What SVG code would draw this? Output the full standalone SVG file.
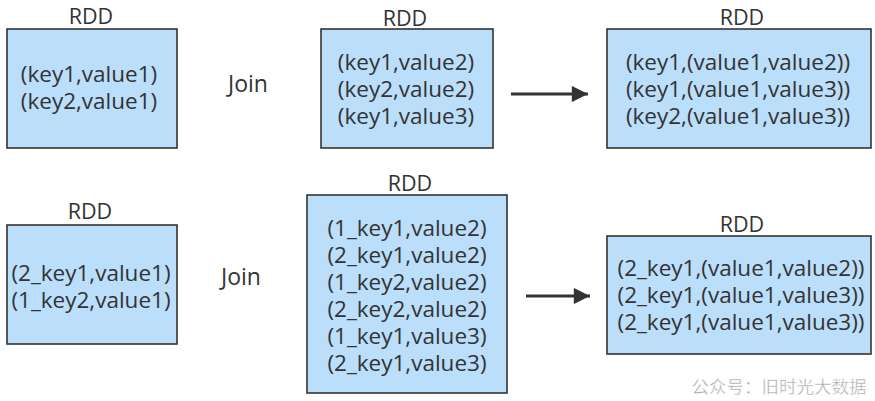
<svg xmlns="http://www.w3.org/2000/svg" width="875" height="401" viewBox="0 0 875 401">
<style>
.box{fill:#bbdefa;stroke:#333;stroke-width:1.6}
.t{font-family:"Open Sans","Noto Sans","Liberation Sans",sans-serif;font-size:22.5px;fill:#333;text-anchor:middle}
.lbl{font-family:"Open Sans","Noto Sans","Liberation Sans",sans-serif;font-size:21.5px;fill:#333;text-anchor:middle}
.jn{font-family:"Open Sans","Noto Sans","Liberation Sans",sans-serif;font-size:23px;fill:#333;text-anchor:middle}
.wm{font-family:"Noto Sans CJK SC","Noto Sans",sans-serif;font-size:17.5px;fill:#a8a8a8;stroke:#fff;stroke-width:0.4;text-anchor:middle}
.edge{stroke:#333;stroke-width:3;fill:none}
</style>
<defs>
<marker id="ah" viewBox="0 0 10 10" refX="10" refY="5" markerWidth="7.6" markerHeight="5.4" markerUnits="strokeWidth" orient="auto">
<path d="M0,0 L10,5 L0,10 z" fill="#333"/>
</marker>
</defs>
<rect width="875" height="401" fill="#fff"/>
<g id="rdd1">
<text class="lbl" x="91" y="23.5">RDD</text>
<rect class="box" x="7" y="29" width="170" height="119"/>
<text class="t" x="89" y="82">(key1,value1)</text>
<text class="t" x="89" y="109">(key2,value1)</text>
</g>
<g id="join1"><text class="jn" x="248" y="92">Join</text></g>
<g id="rdd2">
<text class="lbl" x="405" y="26">RDD</text>
<rect class="box" x="321" y="29" width="172" height="119"/>
<text class="t" x="406" y="70">(key1,value2)</text>
<text class="t" x="406" y="97">(key2,value2)</text>
<text class="t" x="406" y="124">(key1,value3)</text>
</g>
<g id="rdd3">
<text class="lbl" x="742" y="25">RDD</text>
<rect class="box" x="607" y="29" width="264" height="119"/>
<text class="t" x="738" y="70">(key1,(value1,value2))</text>
<text class="t" x="738" y="97">(key1,(value1,value3))</text>
<text class="t" x="738" y="124">(key2,(value1,value3))</text>
</g>
<g id="rdd4">
<text class="lbl" x="90" y="219">RDD</text>
<rect class="box" x="7" y="225" width="170" height="119"/>
<text class="t" x="91" y="281">(2_key1,value1)</text>
<text class="t" x="91" y="308">(1_key2,value1)</text>
</g>
<g id="join2"><text class="jn" x="241" y="285">Join</text></g>
<g id="rdd5">
<text class="lbl" x="410" y="191">RDD</text>
<rect class="box" x="307" y="195" width="200" height="198"/>
<text class="t" x="407" y="236">(1_key1,value2)</text>
<text class="t" x="407" y="263">(2_key1,value2)</text>
<text class="t" x="407" y="290">(1_key2,value2)</text>
<text class="t" x="407" y="317">(2_key2,value2)</text>
<text class="t" x="407" y="344">(1_key1,value3)</text>
<text class="t" x="407" y="371">(2_key1,value3)</text>
</g>
<g id="rdd6">
<text class="lbl" x="742" y="232">RDD</text>
<rect class="box" x="607" y="236" width="264" height="118"/>
<text class="t" x="741" y="276">(2_key1,(value1,value2))</text>
<text class="t" x="741" y="303">(2_key1,(value1,value3))</text>
<text class="t" x="741" y="330">(2_key1,(value1,value3))</text>
</g>
<g id="connectors">
<line class="edge" x1="511" y1="94" x2="588" y2="94" marker-end="url(#ah)"/>
<line class="edge" x1="526" y1="296" x2="590" y2="296" marker-end="url(#ah)"/>
</g>
<text class="wm" x="779" y="393">公众号：旧时光大数据</text>
</svg>
